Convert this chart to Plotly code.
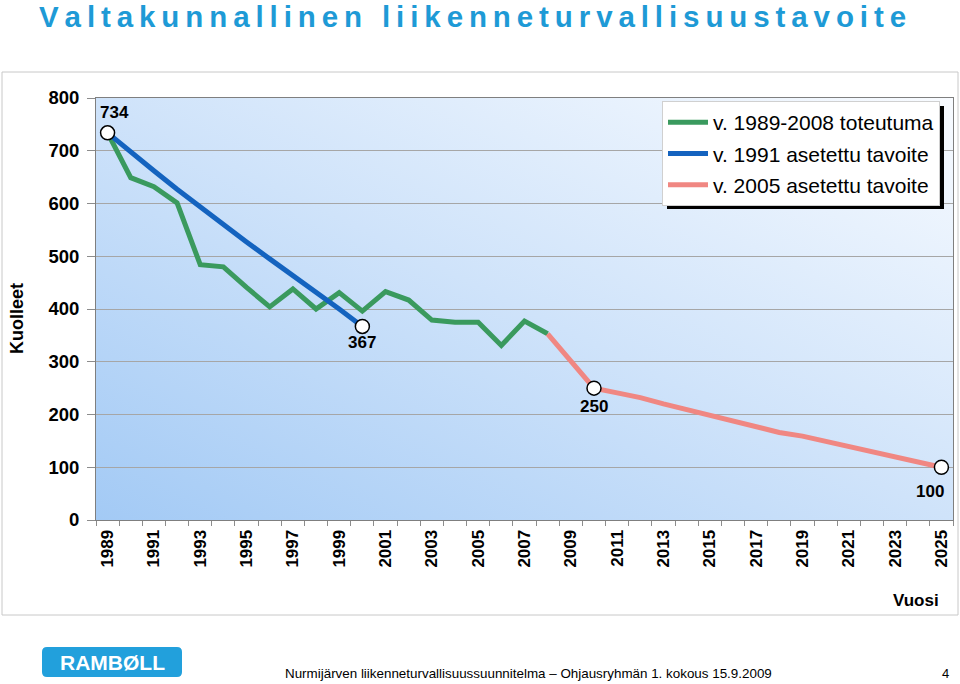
import base64
import plotly.graph_objects as go

# ---------------- data ----------------
years_actual = list(range(1989, 2009))
deaths_actual = [734, 649, 632, 601, 484, 480, 441, 404, 438, 400,
                 431, 396, 433, 417, 379, 375, 375, 331, 377, 353]
years_goal1991 = list(range(1989, 2001))
goal1991 = [734, 697, 662, 627, 593, 558, 527, 495, 464, 432, 400, 367]
years_goal2005 = list(range(2008, 2026))
goal2005 = [353, 302, 250, 241, 232, 220, 209, 198, 188, 177, 166,
            159, 149, 139, 130, 120, 111, 100]
milestone_years = [1989, 2000, 2010, 2025]
milestone_values = [734, 367, 250, 100]
year_ticks = list(range(1989, 2026, 2))
y_ticks = list(range(0, 801, 100))
series_names = ["v. 1989-2008 toteutuma", "v. 1991 asetettu tavoite", "v. 2005 asetettu tavoite"]
title_text = "Valtakunnallinen liikenneturvallisuustavoite"
footer_text = "Nurmijärven liikenneturvallisuussuunnitelma – Ohjausryhmän 1. kokous 15.9.2009"

# ---------------- geometry helpers ----------------
W, H = 960, 684
L, R, T, B = 96, 7, 98, 164
PW, PH = W - L - R, H - T - B


def X(px):
    return (px - L) / PW


def Y(py):
    return (H - B - py) / PH


FONT = "Liberation Sans, Arial, sans-serif"
GREEN = "#3A9A5E"
BLUE = "#1463BF"
PINK = "#F08782"

fig = go.Figure()
fig.add_trace(go.Scatter(x=years_actual, y=deaths_actual, mode="lines", name=series_names[0],
                         line=dict(color=GREEN, width=5), legendgroup="a"))
fig.add_trace(go.Scatter(x=years_goal1991, y=goal1991, mode="lines", name=series_names[1],
                         line=dict(color=BLUE, width=5), legendgroup="b"))
fig.add_trace(go.Scatter(x=years_goal2005, y=goal2005, mode="lines", name=series_names[2],
                         line=dict(color=PINK, width=5), legendgroup="c"))
fig.add_trace(go.Scatter(x=milestone_years, y=milestone_values, mode="markers", showlegend=False,
                         marker=dict(size=14, color="white", line=dict(color="black", width=1.5))))

label_shifts = [(7, 20), (0, -16), (0, -18), (-11, -24)]
annotations = []
for yr, v, (dx, dy) in zip(milestone_years, milestone_values, label_shifts):
    annotations.append(dict(x=yr, y=v, xref="x", yref="y", text=str(v), showarrow=False,
                            xshift=dx, yshift=dy,
                            font=dict(family=FONT, size=17, color="black", weight="bold")))

spaced_title = "\u2009".join(list(title_text))
annotations += [
    dict(x=X(472), y=Y(17), xref="paper", yref="paper", text=spaced_title, showarrow=False,
         xanchor="center", yanchor="middle",
         font=dict(family=FONT, size=29.5, color="#1E9AD6", weight="bold")),
    dict(x=X(17), y=Y(319), xref="paper", yref="paper", text="Kuolleet", showarrow=False,
         textangle=-90, xanchor="center", yanchor="middle",
         font=dict(family=FONT, size=18, color="black", weight="bold")),
    dict(x=X(941), y=Y(600), xref="paper", yref="paper", text="Vuosi", showarrow=False,
         xanchor="right", yanchor="middle",
         font=dict(family=FONT, size=17, color="black", weight="bold")),
    dict(x=X(283), y=Y(673), xref="paper", yref="paper", text=footer_text, showarrow=False,
         xanchor="left", yanchor="middle",
         font=dict(family=FONT, size=13.4, color="black")),
    dict(x=X(945), y=Y(673), xref="paper", yref="paper", text="4", showarrow=False,
         xanchor="center", yanchor="middle",
         font=dict(family=FONT, size=13, color="black")),
    dict(x=X(112), y=Y(662), xref="paper", yref="paper", text="RAMBØLL", showarrow=False,
         xanchor="center", yanchor="middle",
         font=dict(family=FONT, size=21, color="white", weight="bold")),
]


def rounded_rect(x0, y0, x1, y1, r):
    return (f"M{X(x0 + r)},{Y(y0)} L{X(x1 - r)},{Y(y0)} Q{X(x1)},{Y(y0)} {X(x1)},{Y(y0 + r)} "
            f"L{X(x1)},{Y(y1 - r)} Q{X(x1)},{Y(y1)} {X(x1 - r)},{Y(y1)} "
            f"L{X(x0 + r)},{Y(y1)} Q{X(x0)},{Y(y1)} {X(x0)},{Y(y1 - r)} "
            f"L{X(x0)},{Y(y0 + r)} Q{X(x0)},{Y(y0)} {X(x0 + r)},{Y(y0)} Z")


shapes = [
    dict(type="rect", xref="paper", yref="paper", x0=X(2), x1=X(958), y0=Y(615), y1=Y(72),
         line=dict(color="#C8C8C8", width=1), fillcolor="rgba(0,0,0,0)", layer="below"),
    dict(type="rect", xref="paper", yref="paper", x0=X(667), x1=X(944), y0=Y(209), y1=Y(106),
         line=dict(width=0), fillcolor="black", layer="above"),
    dict(type="path", xref="paper", yref="paper", path=rounded_rect(42, 647, 182, 677, 5),
         line=dict(width=0), fillcolor="#22A0DC", layer="above"),
]

svg = ("<svg xmlns='http://www.w3.org/2000/svg' width='200' height='100' viewBox='0 0 200 100' "
       "preserveAspectRatio='none'><defs><linearGradient id='g' x1='0' y1='1' x2='1' y2='0'>"
       "<stop offset='0' stop-color='#A3CAF5'/><stop offset='0.5' stop-color='#CFE3FA'/>"
       "<stop offset='1' stop-color='#F8FBFF'/></linearGradient></defs>"
       "<rect width='200' height='100' fill='url(#g)'/></svg>")
svg_uri = "data:image/svg+xml;base64," + base64.b64encode(svg.encode()).decode()

fig.update_layout(
    width=W, height=H,
    margin=dict(l=L, r=R, t=T, b=B, pad=0),
    paper_bgcolor="white", plot_bgcolor="rgba(0,0,0,0)",
    showlegend=True,
    legend=dict(x=X(662), y=Y(101), xanchor="left", yanchor="top",
                bgcolor="white", bordercolor="#D0D0D0", borderwidth=1,
                font=dict(family=FONT, size=21, color="black"),
                tracegroupgap=1, itemwidth=40),
    annotations=annotations,
    shapes=shapes,
    images=[dict(source=svg_uri, xref="paper", yref="paper", x=0, y=1, sizex=1, sizey=1,
                 xanchor="left", yanchor="top", sizing="stretch", layer="below")],
    xaxis=dict(range=[1988.5, 2025.5], tickmode="array", tickvals=year_ticks,
               ticktext=[str(v) for v in year_ticks], tickangle=-90,
               ticks="outside", ticklen=2, tickcolor="rgba(0,0,0,0)",
               tickfont=dict(family=FONT, size=17, color="black", weight="bold"),
               showgrid=False, zeroline=False,
               showline=True, linecolor="#7F7F7F", linewidth=1, mirror=True,
               minor=dict(tickmode="array", tickvals=[v + 0.5 for v in range(1988, 2026)],
                          ticks="outside", ticklen=5, tickcolor="#8C8C8C", showgrid=False)),
    yaxis=dict(range=[0, 800], tickmode="array", tickvals=y_ticks,
               ticks="outside", ticklen=8, tickcolor="#8C8C8C", ticklabelstandoff=4,
               tickfont=dict(family=FONT, size=18.5, color="black", weight="bold"),
               showgrid=True, gridcolor="#A6A6A6", gridwidth=1, zeroline=False,
               showline=True, linecolor="#7F7F7F", linewidth=1, mirror=True),
)

fig.write_html("out.html")
